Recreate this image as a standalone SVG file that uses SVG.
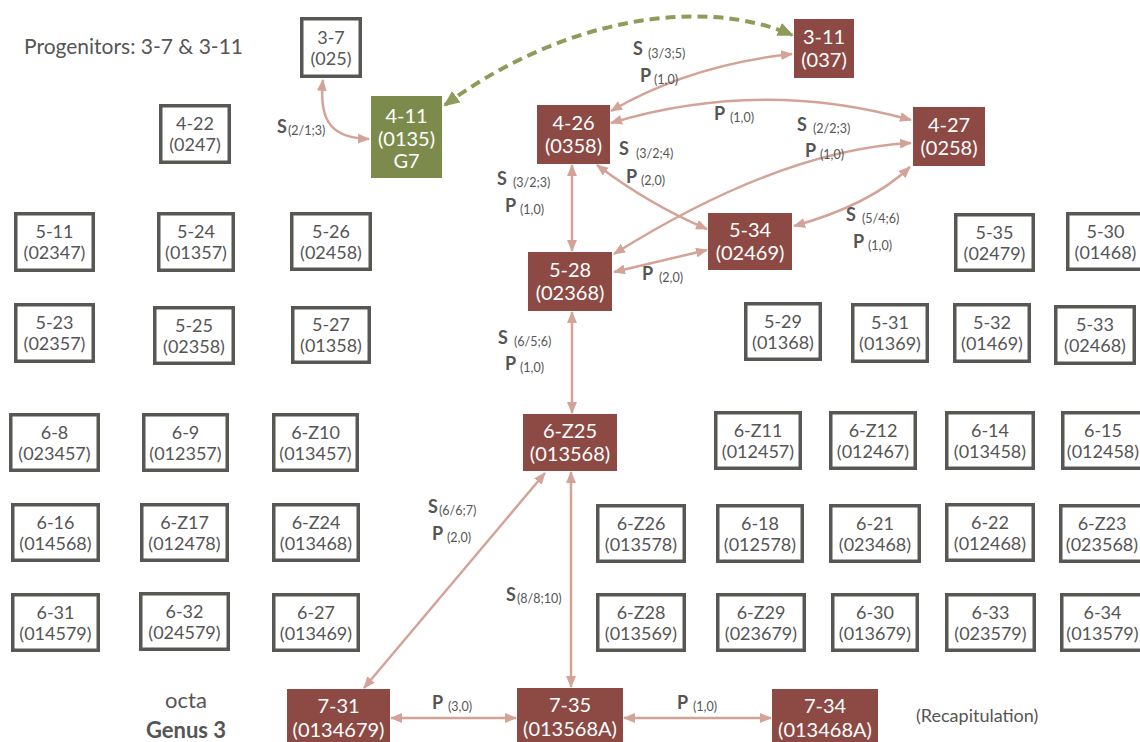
<svg xmlns="http://www.w3.org/2000/svg" width="1140" height="742" viewBox="0 0 1140 742">
<defs>
<marker id="ah" viewBox="0 0 12 10" refX="11" refY="5" markerWidth="12" markerHeight="10" markerUnits="userSpaceOnUse" orient="auto-start-reverse"><path d="M0,0 L12,5 L0,10 z" fill="#d4a398"/></marker>
<marker id="gh" viewBox="0 0 16 14" refX="14" refY="7" markerWidth="16" markerHeight="14" markerUnits="userSpaceOnUse" orient="auto-start-reverse"><path d="M0,0 L16,7 L0,14 z" fill="#8e9c5a"/></marker>
<style>
.wb rect{fill:#fff;stroke:#575753;stroke-width:3.5}
.wb text{font-family:Lato,"Liberation Sans",sans-serif;font-size:18px;fill:#555;text-anchor:middle}
.rb rect{fill:#8d4a44}
.gb rect{fill:#7c8b4c}
.rb text,.gb text{font-family:Lato,"Liberation Sans",sans-serif;font-size:20px;fill:#fff;text-anchor:middle}
.edge{fill:none;stroke:#d4a398;stroke-width:2.5;marker-start:url(#ah);marker-end:url(#ah)}
.dash{fill:none;stroke:#8e9c5a;stroke-width:4;stroke-dasharray:10 6;marker-start:url(#gh);marker-end:url(#gh)}
.lbl{font-family:Lato,"Liberation Sans",sans-serif;fill:#555}
.lbl .b{font-weight:bold;font-size:18px}
.lbl .s{font-size:12.5px}
.title{font-family:Lato,"Liberation Sans",sans-serif;fill:#555}
</style>
</defs>
<rect width="1140" height="742" fill="#fff"/>
<text class="title" x="24" y="54" font-size="21" textLength="219">Progenitors: 3-7 &amp; 3-11</text>
<text class="title" x="186" y="708" font-size="22" text-anchor="middle">octa</text>
<text class="title" x="186" y="738" font-size="22" font-weight="bold" text-anchor="middle">Genus 3</text>
<text class="title" x="916" y="722" font-size="18">(Recapitulation)</text>

<g id="connectors">
<path class="dash" d="M445,105 C560,20 700,-5 792,35"/>
<path class="edge" d="M323,80 C318,125 335,138 369,139"/>
<path class="edge" d="M611,111 Q690,65 792,54"/>
<path class="edge" d="M611,123 Q760,78 911,120"/>
<path class="edge" d="M597,165 Q650,205 707,229"/>
<path class="edge" d="M572,165 L572,251"/>
<path class="edge" d="M911,143 Q780,150 614,254"/>
<path class="edge" d="M910,167 Q870,205 794,226"/>
<path class="edge" d="M707,250 L614,272"/>
<path class="edge" d="M572,312 L572,413"/>
<path class="edge" d="M545,473 L364,688"/>
<path class="edge" d="M571,472 L571,687"/>
<path class="edge" d="M391,718 L516,718"/>
<path class="edge" d="M624,718 L771,718"/>
</g>

<g id="labels" class="lbl">
<text><tspan class="b" x="277" y="133">S</tspan><tspan class="s" x="288" y="135">(2/1;3)</tspan></text>
<text><tspan class="b" x="633" y="55">S</tspan><tspan class="s" x="648" y="58">(3/3;5)</tspan></text>
<text><tspan class="b" x="640" y="82">P</tspan><tspan class="s" x="654" y="84">(1,0)</tspan></text>
<text><tspan class="b" x="714" y="120">P</tspan><tspan class="s" x="730" y="122">(1,0)</tspan></text>
<text><tspan class="b" x="797" y="131">S</tspan><tspan class="s" x="813" y="133">(2/2;3)</tspan></text>
<text><tspan class="b" x="805" y="157">P</tspan><tspan class="s" x="820" y="159">(1,0)</tspan></text>
<text><tspan class="b" x="619" y="155">S</tspan><tspan class="s" x="636" y="158">(3/2;4)</tspan></text>
<text><tspan class="b" x="626" y="183">P</tspan><tspan class="s" x="641" y="185">(2,0)</tspan></text>
<text><tspan class="b" x="497" y="185">S</tspan><tspan class="s" x="513" y="187">(3/2;3)</tspan></text>
<text><tspan class="b" x="505" y="212">P</tspan><tspan class="s" x="520" y="214">(1,0)</tspan></text>
<text><tspan class="b" x="846" y="221">S</tspan><tspan class="s" x="862" y="223">(5/4;6)</tspan></text>
<text><tspan class="b" x="853" y="248">P</tspan><tspan class="s" x="868" y="250">(1,0)</tspan></text>
<text><tspan class="b" x="642" y="280">P</tspan><tspan class="s" x="659" y="282">(2,0)</tspan></text>
<text><tspan class="b" x="498" y="344">S</tspan><tspan class="s" x="514" y="346">(6/5;6)</tspan></text>
<text><tspan class="b" x="505" y="370">P</tspan><tspan class="s" x="520" y="372">(1,0)</tspan></text>
<text><tspan class="b" x="428" y="513">S</tspan><tspan class="s" x="439" y="515">(6/6;7)</tspan></text>
<text><tspan class="b" x="432" y="540">P</tspan><tspan class="s" x="447" y="542">(2,0)</tspan></text>
<text><tspan class="b" x="506" y="601">S</tspan><tspan class="s" x="517" y="603">(8/8;10)</tspan></text>
<text><tspan class="b" x="432" y="709">P</tspan><tspan class="s" x="448" y="711">(3,0)</tspan></text>
<text><tspan class="b" x="677" y="709">P</tspan><tspan class="s" x="693" y="711">(1,0)</tspan></text>
</g>

<g id="n3-11" class="rb"><rect x="794" y="19" width="60" height="59"/><text x="824" y="44">3-11</text><text x="824" y="67">(037)</text></g>
<g id="n4-26" class="rb"><rect x="537" y="105" width="73" height="59"/><text x="573.5" y="130">4-26</text><text x="573.5" y="153">(0358)</text></g>
<g id="n4-27" class="rb"><rect x="913" y="107" width="72" height="59"/><text x="949" y="132">4-27</text><text x="949" y="155">(0258)</text></g>
<g id="n5-34" class="rb"><rect x="708" y="213" width="84" height="57"/><text x="750" y="237">5-34</text><text x="750" y="260">(02469)</text></g>
<g id="n5-28" class="rb"><rect x="528" y="252" width="84" height="59"/><text x="570" y="277">5-28</text><text x="570" y="300">(02368)</text></g>
<g id="n6-Z25" class="rb"><rect x="523" y="414" width="94" height="57"/><text x="570" y="438">6-Z25</text><text x="570" y="461">(013568)</text></g>
<g id="n7-31" class="rb"><rect x="287" y="689" width="103" height="58"/><text x="338.5" y="713">7-31</text><text x="338.5" y="737">(0134679)</text></g>
<g id="n7-35" class="rb"><rect x="517" y="688" width="106" height="59"/><text x="570" y="712">7-35</text><text x="570" y="736">(013568A)</text></g>
<g id="n7-34" class="rb"><rect x="772" y="689" width="106" height="58"/><text x="825" y="713">7-34</text><text x="825" y="737">(013468A)</text></g>
<g id="n4-11" class="gb"><rect x="371" y="96" width="71" height="82"/><text x="406.5" y="123">4-11</text><text x="406.5" y="146">(0135)</text><text x="406.5" y="168">G7</text></g>

<g id="n3-7" class="wb"><rect x="301.75" y="18.75" width="58.5" height="57.5"/><text x="331" y="43.5">3-7</text><text x="331" y="64.5">(025)</text></g>
<g id="n4-22" class="wb"><rect x="160.75" y="105.75" width="68.5" height="56.5"/><text x="195" y="130">4-22</text><text x="195" y="151">(0247)</text></g>
<g id="n5-11" class="wb"><rect x="15.75" y="213.75" width="77.5" height="56.5"/><text x="54.5" y="238">5-11</text><text x="54.5" y="259">(02347)</text></g>
<g id="n5-24" class="wb"><rect x="158.75" y="213.75" width="74.5" height="56.5"/><text x="196" y="238">5-24</text><text x="196" y="259">(01357)</text></g>
<g id="n5-26" class="wb"><rect x="291.75" y="213.75" width="78.5" height="55.5"/><text x="331" y="237.5">5-26</text><text x="331" y="258.5">(02458)</text></g>
<g id="n5-23" class="wb"><rect x="15.75" y="304.75" width="77.5" height="56.5"/><text x="54.5" y="329">5-23</text><text x="54.5" y="350">(02357)</text></g>
<g id="n5-25" class="wb"><rect x="154.75" y="307.75" width="78.5" height="55.5"/><text x="194" y="331.5">5-25</text><text x="194" y="352.5">(02358)</text></g>
<g id="n5-27" class="wb"><rect x="292.75" y="307.75" width="76.5" height="54.5"/><text x="331" y="331">5-27</text><text x="331" y="352">(01358)</text></g>
<g id="n5-35" class="wb"><rect x="955.75" y="214.75" width="77.5" height="55.5"/><text x="994.5" y="238.5">5-35</text><text x="994.5" y="259.5">(02479)</text></g>
<g id="n5-30" class="wb"><rect x="1067.75" y="213.75" width="75.5" height="55.5"/><text x="1105.5" y="237.5">5-30</text><text x="1105.5" y="258.5">(01468)</text></g>
<g id="n5-29" class="wb"><rect x="745.75" y="303.75" width="74.5" height="55.5"/><text x="783" y="327.5">5-29</text><text x="783" y="348.5">(01368)</text></g>
<g id="n5-31" class="wb"><rect x="852.75" y="304.75" width="74.5" height="56.5"/><text x="890" y="329">5-31</text><text x="890" y="350">(01369)</text></g>
<g id="n5-32" class="wb"><rect x="954.75" y="304.75" width="74.5" height="56.5"/><text x="992" y="329">5-32</text><text x="992" y="350">(01469)</text></g>
<g id="n5-33" class="wb"><rect x="1055.75" y="306.75" width="78.5" height="56.5"/><text x="1095" y="331">5-33</text><text x="1095" y="352">(02468)</text></g>
<g id="n6-8" class="wb"><rect x="10.75" y="414.75" width="87.5" height="55.5"/><text x="54.5" y="438.5">6-8</text><text x="54.5" y="459.5">(023457)</text></g>
<g id="n6-9" class="wb"><rect x="143.75" y="414.75" width="83.5" height="55.5"/><text x="185.5" y="438.5">6-9</text><text x="185.5" y="459.5">(012357)</text></g>
<g id="n6-Z10" class="wb"><rect x="273.75" y="414.75" width="83.5" height="55.5"/><text x="315.5" y="438.5">6-Z10</text><text x="315.5" y="459.5">(013457)</text></g>
<g id="n6-Z11" class="wb"><rect x="715.75" y="412.75" width="84.5" height="55.5"/><text x="758" y="436.5">6-Z11</text><text x="758" y="457.5">(012457)</text></g>
<g id="n6-Z12" class="wb"><rect x="830.75" y="412.75" width="84.5" height="55.5"/><text x="873" y="436.5">6-Z12</text><text x="873" y="457.5">(012467)</text></g>
<g id="n6-14" class="wb"><rect x="946.75" y="412.75" width="86.5" height="55.5"/><text x="990" y="436.5">6-14</text><text x="990" y="457.5">(013458)</text></g>
<g id="n6-15" class="wb"><rect x="1062.75" y="412.75" width="80.5" height="55.5"/><text x="1103" y="436.5">6-15</text><text x="1103" y="457.5">(012458)</text></g>
<g id="n6-16" class="wb"><rect x="12.75" y="504.75" width="85.5" height="55.5"/><text x="55.5" y="528.5">6-16</text><text x="55.5" y="549.5">(014568)</text></g>
<g id="n6-Z17" class="wb"><rect x="141.75" y="504.75" width="85.5" height="55.5"/><text x="184.5" y="528.5">6-Z17</text><text x="184.5" y="549.5">(012478)</text></g>
<g id="n6-Z24" class="wb"><rect x="273.75" y="504.75" width="84.5" height="55.5"/><text x="316" y="528.5">6-Z24</text><text x="316" y="549.5">(013468)</text></g>
<g id="n6-Z26" class="wb"><rect x="597.75" y="505.75" width="86.5" height="55.5"/><text x="641" y="529.5">6-Z26</text><text x="641" y="550.5">(013578)</text></g>
<g id="n6-18" class="wb"><rect x="717.75" y="505.75" width="84.5" height="55.5"/><text x="760" y="529.5">6-18</text><text x="760" y="550.5">(012578)</text></g>
<g id="n6-21" class="wb"><rect x="830.75" y="505.75" width="88.5" height="55.5"/><text x="875" y="529.5">6-21</text><text x="875" y="550.5">(023468)</text></g>
<g id="n6-22" class="wb"><rect x="946.75" y="504.75" width="86.5" height="55.5"/><text x="990" y="528.5">6-22</text><text x="990" y="549.5">(012468)</text></g>
<g id="n6-Z23" class="wb"><rect x="1060.75" y="505.75" width="82.5" height="55.5"/><text x="1102" y="529.5">6-Z23</text><text x="1102" y="550.5">(023568)</text></g>
<g id="n6-31" class="wb"><rect x="12.75" y="594.75" width="85.5" height="55.5"/><text x="55.5" y="618.5">6-31</text><text x="55.5" y="639.5">(014579)</text></g>
<g id="n6-32" class="wb"><rect x="140.75" y="593.75" width="87.5" height="55.5"/><text x="184.5" y="617.5">6-32</text><text x="184.5" y="638.5">(024579)</text></g>
<g id="n6-27" class="wb"><rect x="273.75" y="594.75" width="84.5" height="55.5"/><text x="316" y="618.5">6-27</text><text x="316" y="639.5">(013469)</text></g>
<g id="n6-Z28" class="wb"><rect x="597.75" y="594.75" width="86.5" height="55.5"/><text x="641" y="618.5">6-Z28</text><text x="641" y="639.5">(013569)</text></g>
<g id="n6-Z29" class="wb"><rect x="717.75" y="594.75" width="86.5" height="55.5"/><text x="761" y="618.5">6-Z29</text><text x="761" y="639.5">(023679)</text></g>
<g id="n6-30" class="wb"><rect x="832.75" y="594.75" width="84.5" height="55.5"/><text x="875" y="618.5">6-30</text><text x="875" y="639.5">(013679)</text></g>
<g id="n6-33" class="wb"><rect x="946.75" y="594.75" width="87.5" height="55.5"/><text x="990.5" y="618.5">6-33</text><text x="990.5" y="639.5">(023579)</text></g>
<g id="n6-34" class="wb"><rect x="1061.75" y="594.75" width="81.5" height="55.5"/><text x="1102.5" y="618.5">6-34</text><text x="1102.5" y="639.5">(013579)</text></g>
</svg>
